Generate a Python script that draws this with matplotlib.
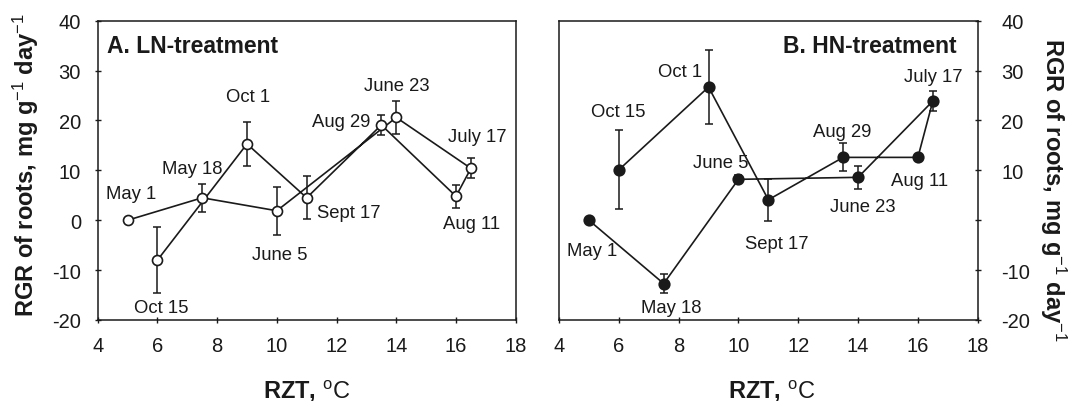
import matplotlib
matplotlib.use('Agg')
import matplotlib.pyplot as plt

plt.rcParams['font.family'] = ['Liberation Sans', 'DejaVu Sans']
plt.rcParams['mathtext.fontset'] = 'custom'
plt.rcParams['mathtext.rm'] = 'Liberation Sans'
plt.rcParams['mathtext.it'] = 'Liberation Sans:italic'
plt.rcParams['mathtext.bf'] = 'Liberation Sans:bold'
plt.rcParams['axes.unicode_minus'] = False

# ----------------------------------------------------------------
# Data (sampling dates, root-zone temperature, RGR of roots)
# ----------------------------------------------------------------
dates = ['May 1', 'May 18', 'June 5', 'June 23', 'July 17',
         'Aug 11', 'Aug 29', 'Sept 17', 'Oct 1', 'Oct 15']
rzt = [5, 7.5, 10, 14, 16.5, 16, 13.5, 11, 9, 6]

rgr_ln = [0, 4.5, 1.9, 20.6, 10.4, 4.8, 19.1, 4.5, 15.3, -8.0]
err_ln = [0, 2.8, 4.8, 3.4, 2.0, 2.3, 2.0, 4.3, 4.4, 6.6]

rgr_hn = [0, -12.7, 8.2, 8.6, 23.9, 12.6, 12.6, 4.1, 26.7, 10.1]
err_hn = [0, 1.9, 0.8, 2.3, 2.0, 0, 2.8, 4.2, 7.4, 7.9]

xticks = [4, 6, 8, 10, 12, 14, 16, 18]
yticks = [-20, -10, 0, 10, 20, 30, 40]
yticklabels_hn = ['-20', '-10', '', '10', '20', '30', '40']

# label offsets in pixels (dx, dy) for each date
offs_ln = [(4, 27), (-10, 29), (3, -44), (1, 32), (6, 32),
           (16, -27), (-40, 3), (42, -15), (1, 47), (4, -47)]
offs_hn = [(3, -30), (8, -24), (-18, 17), (5, -29), (0, 25),
           (2, -23), (-1, 26), (8, -44), (-28, 16), (-1, 58)]

INK = '#1a1a1a'

fig = plt.figure(figsize=(10.68, 4.02), dpi=100)
ax1 = fig.add_axes([97.7 / 1068, 1 - 321 / 402, 418 / 1068, 299.3 / 402])
ax2 = fig.add_axes([559 / 1068, 1 - 321 / 402, 418.7 / 1068, 299.3 / 402])


def draw_panel(ax, y, err, offs, filled):
    ax.errorbar(rzt, y, yerr=err, fmt='none', ecolor=INK, elinewidth=1.1,
                capsize=2.6, capthick=1.1, zorder=2)
    ax.plot(rzt, y, '-', color=INK, lw=1.2, marker='o',
            markersize=7.6 if filled else 7.2,
            markerfacecolor=INK if filled else 'white',
            markeredgecolor=INK, markeredgewidth=1.2, zorder=3)
    for d, xv, yv, (dx, dy) in zip(dates, rzt, y, offs):
        ax.annotate(d, (xv, yv), xytext=(dx, dy), textcoords='offset pixels',
                    ha='center', va='center', fontsize=13.3, color=INK)
    ax.set_xlim(4, 18)
    ax.set_ylim(-20, 40)
    ax.set_xticks(xticks)
    ax.set_yticks(yticks)
    for s in ax.spines.values():
        s.set_linewidth(1.1)
        s.set_color(INK)


draw_panel(ax1, rgr_ln, err_ln, offs_ln, filled=False)
draw_panel(ax2, rgr_hn, err_hn, offs_hn, filled=True)

ax1.tick_params(axis='both', direction='inout', length=5, width=1.0,
                labelsize=14.5, colors=INK)
ax1.tick_params(axis='y', pad=9.5)
ax1.tick_params(axis='x', pad=9)

ax2.yaxis.tick_right()
ax2.set_yticklabels(yticklabels_hn)
ax2.tick_params(axis='both', direction='inout', length=5, width=1.0,
                labelsize=14.5, colors=INK)
ax2.tick_params(axis='y', pad=14.5)
ax2.tick_params(axis='x', pad=9)

ax1.text(0.023, 0.917, 'A. LN-treatment', transform=ax1.transAxes,
         ha='left', va='center', fontsize=16.5, fontweight='bold', color=INK)
ax2.text(0.95, 0.917, 'B. HN-treatment', transform=ax2.transAxes,
         ha='right', va='center', fontsize=16.5, fontweight='bold', color=INK)

ylab = r'RGR of roots, mg g$^{\mathrm{-1}}$ day$^{\mathrm{-1}}$'
xlab = r'RZT, $^{\mathrm{o}}\mathrm{C}$'
fig.text(26 / 1068, 1 - 165 / 402, ylab, rotation=90, ha='center', va='center',
         fontsize=17, fontweight='bold', color=INK)
fig.text(1053 / 1068, 1 - 190 / 402, ylab, rotation=270, ha='center', va='center',
         fontsize=17, fontweight='bold', color=INK)
fig.text(306.7 / 1068, 1 - 391 / 402, xlab, ha='center', va='center',
         fontsize=17, fontweight='bold', color=INK)
fig.text(772 / 1068, 1 - 391 / 402, xlab, ha='center', va='center',
         fontsize=17, fontweight='bold', color=INK)

fig.savefig('out.png', dpi=100)
